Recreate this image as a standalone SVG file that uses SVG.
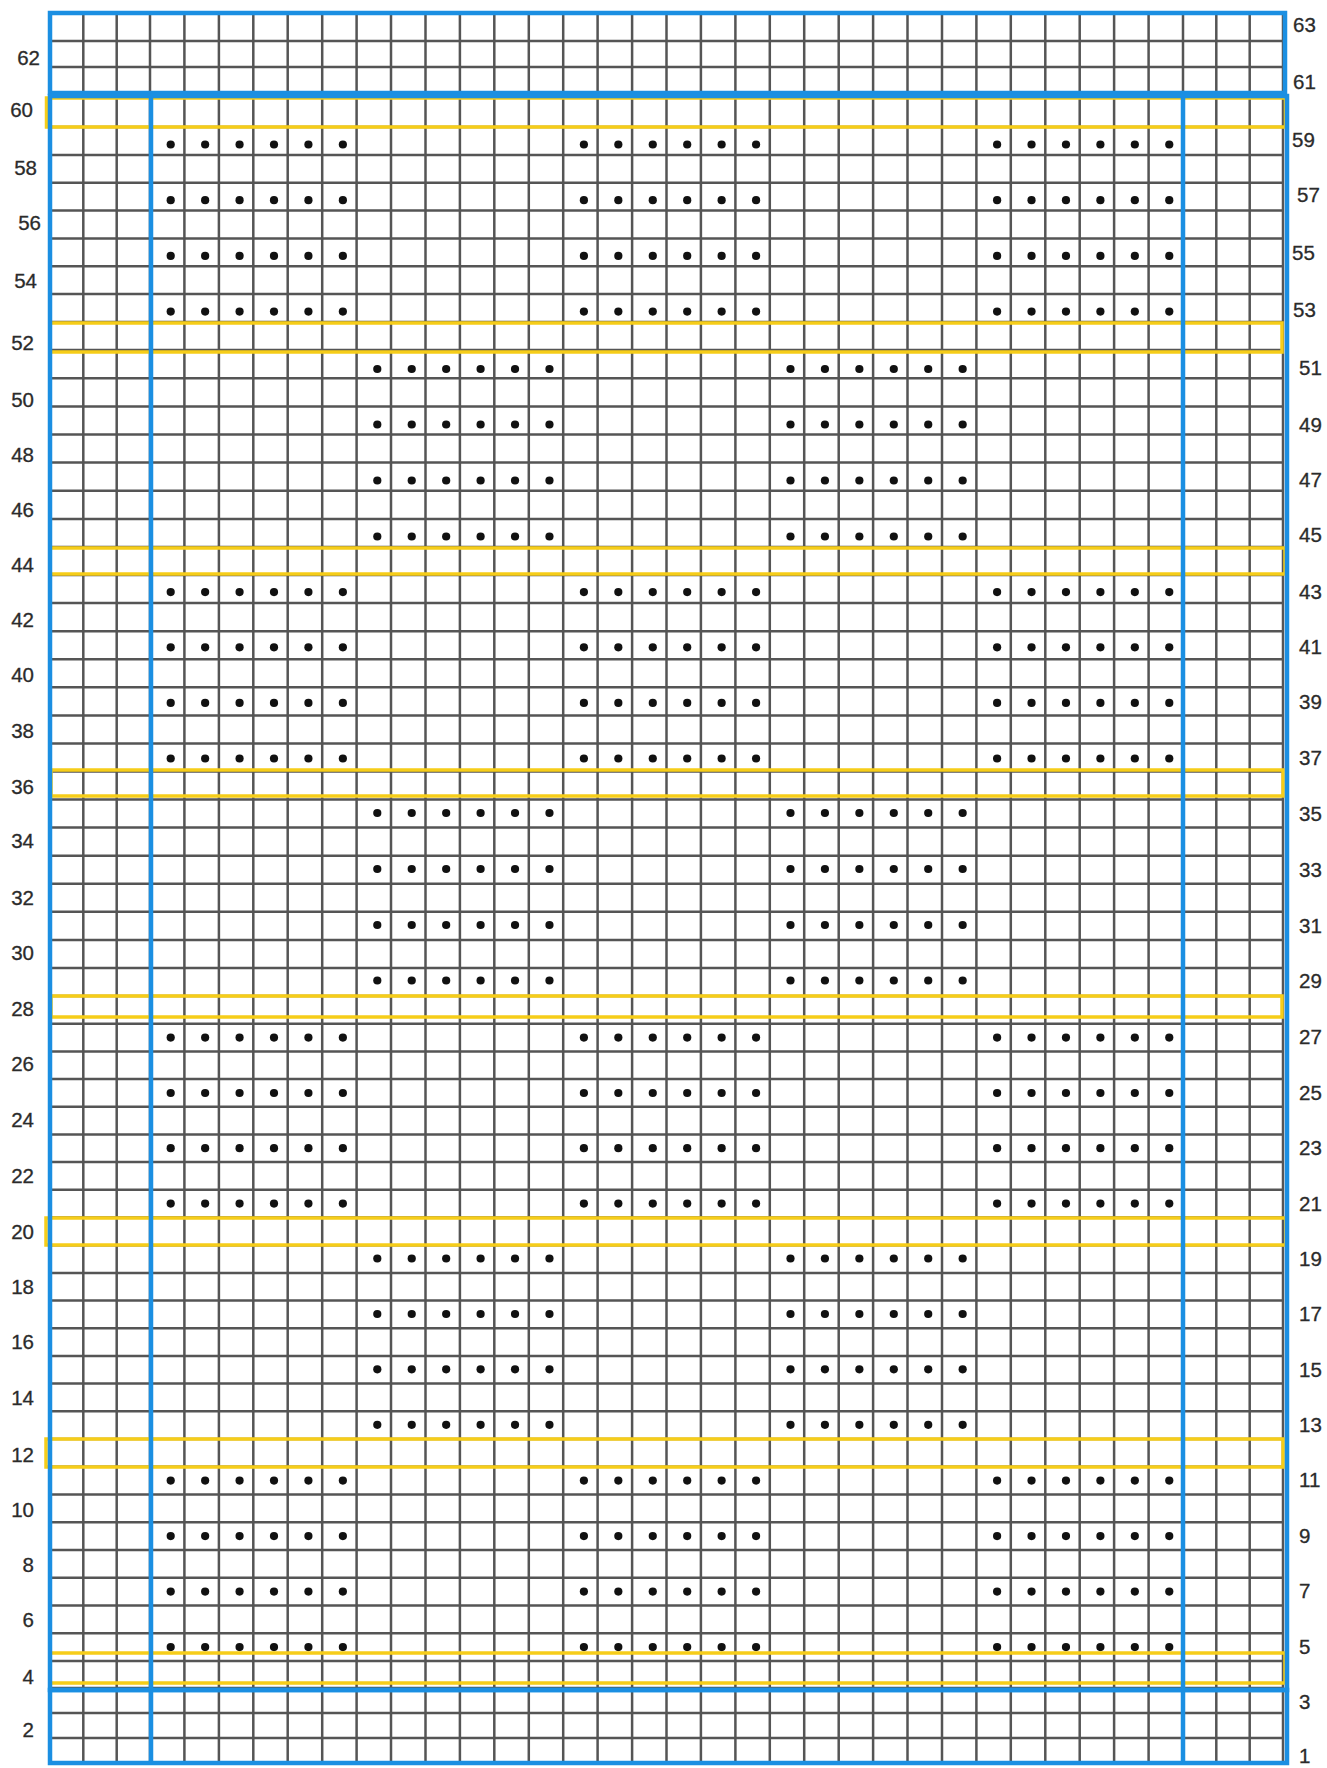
<svg xmlns="http://www.w3.org/2000/svg" width="1327" height="1768" viewBox="0 0 1327 1768">
<style>
.grid{fill:none;stroke:#555555;stroke-width:2.5}
.blue{fill:none;stroke:#1b8fe2;stroke-width:4.5}
.yel{fill:none;stroke:#f6cd19;stroke-width:3.5}
.lbl{font-family:"Liberation Sans",Arial,sans-serif;font-size:20.5px;fill:#2b2b2b;stroke:#2b2b2b;stroke-width:0.3}
.l{text-anchor:end}
.r{text-anchor:start}
.dot{fill:#111}
</style>
<defs>
<g id="six">
<circle class="dot" cx="0" cy="0" r="4.1"/>
<circle class="dot" cx="34.43" cy="0" r="4.1"/>
<circle class="dot" cx="68.87" cy="0" r="4.1"/>
<circle class="dot" cx="103.3" cy="0" r="4.1"/>
<circle class="dot" cx="137.73" cy="0" r="4.1"/>
<circle class="dot" cx="172.17" cy="0" r="4.1"/>
</g>
<g id="rowA"><use href="#six" x="170.7"/><use href="#six" x="583.9"/><use href="#six" x="997.1"/></g>
<g id="rowB"><use href="#six" x="377.3"/><use href="#six" x="790.5"/></g>
</defs>
<rect width="1327" height="1768" fill="#ffffff"/>
<g id="grid">
<path class="grid" d="M50 13H1283M50 41H1283M50 67H1283M50 93H1283M50 127H1283M50 154.9H1283M50 182.7H1283M50 210.6H1283M50 238.4H1283M50 266.3H1283M50 294.1H1283M50 322H1283M50 350.1H1283M50 378.3H1283M50 406.4H1283M50 434.5H1283M50 462.6H1283M50 490.8H1283M50 518.9H1283M50 547H1283M50 575.1H1283M50 603.1H1283M50 631.2H1283M50 659.3H1283M50 687.3H1283M50 715.4H1283M50 743.4H1283M50 771.5H1283M50 799.6H1283M50 827.6H1283M50 855.7H1283M50 883.8H1283M50 911.8H1283M50 939.9H1283M50 967.9H1283M50 996H1283M50 1023.7H1283M50 1051.4H1283M50 1079.1H1283M50 1106.8H1283M50 1134.4H1283M50 1162.1H1283M50 1189.8H1283M50 1217.5H1283M50 1245.2H1283M50 1272.9H1283M50 1300.6H1283M50 1328.3H1283M50 1355.9H1283M50 1383.6H1283M50 1411.3H1283M50 1439H1283M50 1466.75H1283M50 1494.5H1283M50 1522.25H1283M50 1550H1283M50 1577.75H1283M50 1605.5H1283M50 1633.25H1283M50 1661H1283M50 1688H1283M50 1713H1283M50 1738H1283M50 1763H1283"/>
<path class="grid" d="M50 13V1763M83.3 13V1763M116.7 13V1763M150 13V1763M184.4 13V1763M218.9 13V1763M253.3 13V1763M287.7 13V1763M322.2 13V1763M356.6 13V1763M391 13V1763M425.5 13V1763M459.9 13V1763M494.3 13V1763M528.8 13V1763M563.2 13V1763M597.6 13V1763M632.1 13V1763M666.5 13V1763M700.9 13V1763M735.4 13V1763M769.8 13V1763M804.2 13V1763M838.7 13V1763M873.1 13V1763M907.5 13V1763M942 13V1763M976.4 13V1763M1010.8 13V1763M1045.3 13V1763M1079.7 13V1763M1114.1 13V1763M1148.6 13V1763M1183 13V1763M1216.3 13V1763M1249.7 13V1763M1283 13V1763"/>
</g>
<g id="dots">
<use href="#rowA" y="144.5"/>
<use href="#rowA" y="200.2"/>
<use href="#rowA" y="255.9"/>
<use href="#rowA" y="311.6"/>
<use href="#rowB" y="369"/>
<use href="#rowB" y="424.5"/>
<use href="#rowB" y="480.5"/>
<use href="#rowB" y="536.5"/>
<use href="#rowA" y="592.1"/>
<use href="#rowA" y="647.3"/>
<use href="#rowA" y="702.9"/>
<use href="#rowA" y="758.5"/>
<use href="#rowB" y="813"/>
<use href="#rowB" y="869"/>
<use href="#rowB" y="925"/>
<use href="#rowB" y="980.5"/>
<use href="#rowA" y="1037.6"/>
<use href="#rowA" y="1093"/>
<use href="#rowA" y="1148.2"/>
<use href="#rowA" y="1203.6"/>
<use href="#rowB" y="1258.5"/>
<use href="#rowB" y="1314"/>
<use href="#rowB" y="1369.3"/>
<use href="#rowB" y="1424.8"/>
<use href="#rowA" y="1480.6"/>
<use href="#rowA" y="1536.1"/>
<use href="#rowA" y="1591.6"/>
<use href="#rowA" y="1647.1"/>
</g>
<g id="yellow-rows">
<rect class="yel" x="46.5" y="98" width="1239" height="29"/>
<rect class="yel" x="50" y="323" width="1232" height="29"/>
<rect class="yel" x="50" y="548" width="1235" height="26"/>
<rect class="yel" x="51" y="770" width="1232" height="26"/>
<rect class="yel" x="51" y="996" width="1231" height="21"/>
<rect class="yel" x="46" y="1218" width="1240" height="27"/>
<rect class="yel" x="46" y="1439" width="1237" height="28"/>
<rect class="yel" x="50" y="1653" width="1235" height="30"/>
</g>
<g id="blue-frames">
<rect class="blue" x="50" y="13" width="1235" height="80"/>
<rect class="blue" x="50" y="96" width="1237" height="1594"/>
<rect class="blue" x="50" y="1690" width="1237" height="73"/>
<path class="blue" d="M151 96V1763M1183 96V1763"/>
</g>
<g id="labels-left" class="lbl l">
<text x="40" y="65">62</text>
<text x="33" y="117">60</text>
<text x="37" y="175">58</text>
<text x="41" y="230">56</text>
<text x="37" y="287.5">54</text>
<text x="34" y="350">52</text>
<text x="34" y="407">50</text>
<text x="34" y="462">48</text>
<text x="34" y="517">46</text>
<text x="34" y="572">44</text>
<text x="34" y="627">42</text>
<text x="34" y="682">40</text>
<text x="34" y="737.5">38</text>
<text x="34" y="793.5">36</text>
<text x="34" y="848">34</text>
<text x="34" y="905">32</text>
<text x="34" y="960">30</text>
<text x="34" y="1016">28</text>
<text x="34" y="1070.5">26</text>
<text x="34" y="1127">24</text>
<text x="34" y="1183">22</text>
<text x="34" y="1238.5">20</text>
<text x="34" y="1294">18</text>
<text x="34" y="1349">16</text>
<text x="34" y="1405">14</text>
<text x="34" y="1462">12</text>
<text x="34" y="1517">10</text>
<text x="34" y="1572">8</text>
<text x="34" y="1627">6</text>
<text x="34" y="1684">4</text>
<text x="34" y="1737">2</text>
</g>
<g id="labels-right" class="lbl r">
<text x="1293" y="32">63</text>
<text x="1293" y="89">61</text>
<text x="1292" y="147">59</text>
<text x="1297" y="202">57</text>
<text x="1292" y="260">55</text>
<text x="1293" y="317">53</text>
<text x="1299" y="375">51</text>
<text x="1299" y="432">49</text>
<text x="1299" y="487">47</text>
<text x="1299" y="542">45</text>
<text x="1299" y="599">43</text>
<text x="1299" y="654">41</text>
<text x="1299" y="709">39</text>
<text x="1299" y="765">37</text>
<text x="1299" y="821">35</text>
<text x="1299" y="877">33</text>
<text x="1299" y="933">31</text>
<text x="1299" y="988">29</text>
<text x="1299" y="1043.7">27</text>
<text x="1299" y="1100">25</text>
<text x="1299" y="1155">23</text>
<text x="1299" y="1210.5">21</text>
<text x="1299" y="1266">19</text>
<text x="1299" y="1321">17</text>
<text x="1299" y="1377">15</text>
<text x="1299" y="1432">13</text>
<text x="1299" y="1487">11</text>
<text x="1299" y="1543">9</text>
<text x="1299" y="1597.7">7</text>
<text x="1299" y="1653.7">5</text>
<text x="1299" y="1708.7">3</text>
<text x="1299" y="1763">1</text>
</g>
</svg>
